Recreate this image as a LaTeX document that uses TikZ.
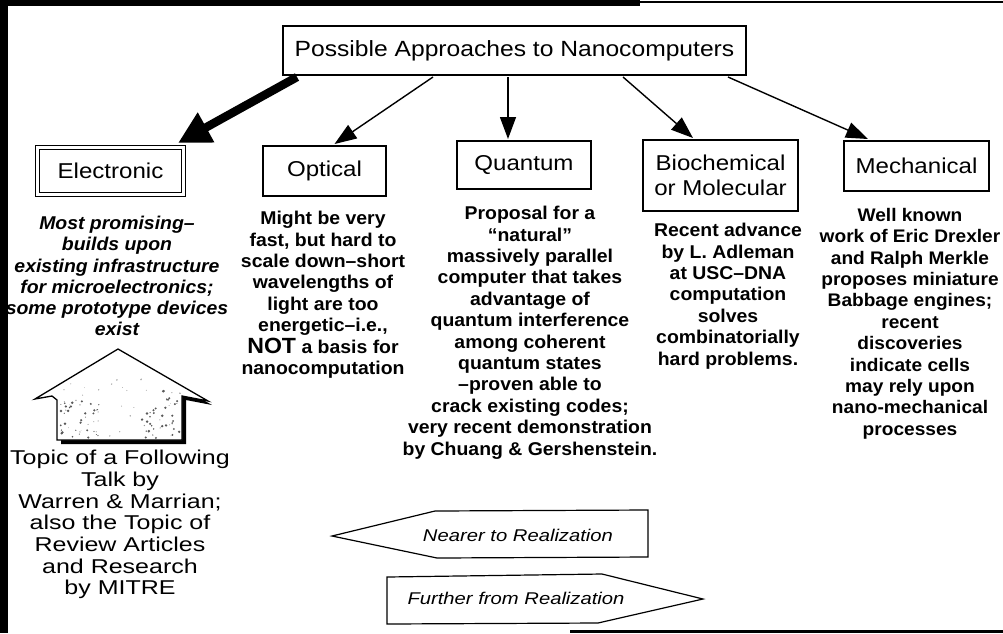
\documentclass[tikz,border=0pt]{standalone}
\usepackage{fontspec}
\setmainfont{Liberation Sans}
\newfontfamily\boxfont[FakeStretch=1.12]{Liberation Sans}
\newfontfamily\descfont[FakeStretch=1.05]{Liberation Sans}
\newfontfamily\talkfont[FakeStretch=1.25]{Liberation Sans}
\newfontfamily\realfont[FakeStretch=1.19]{Liberation Sans}
\usetikzlibrary{arrows.meta,calc}
\tikzset{
  boxnode/.style={draw, line width=2pt, inner sep=0pt, align=center,
    font={\boxfont\fontsize{21.5}{25}\selectfont}},
  descnode/.style={anchor=north, inner sep=0pt, align=center,
    font={\descfont\bfseries\fontsize{18.5}{21.4}\selectfont}},
  talknode/.style={anchor=north, inner sep=0pt, align=center,
    font={\talkfont\fontsize{20}{21.7}\selectfont}},
  realnode/.style={inner sep=0pt, font={\realfont\itshape\fontsize{17}{20}\selectfont}},
  thinarrow/.style={line width=1.4pt, -{Triangle[length=22pt,width=16pt]}},
  thickarrow/.style={line width=8.5pt, -{Triangle[length=32pt,width=32pt]}},
  blockarrow/.style={draw, line width=1.3pt, line join=miter},
}
\begin{document}
\begin{tikzpicture}[x=1pt,y=-1pt]
\useasboundingbox (0,0) rectangle (1003,633);
\clip (0,0) rectangle (1003,633);
% frame
\fill[black] (0,0) rectangle (8,633);
\fill[black] (0,0) rectangle (640,6);
\draw[line width=2pt] (640,2) -- (1003,2);
\draw[line width=3pt] (570,631) -- (1003,631);

% title and category boxes
\node[boxnode, minimum width=463pt, minimum height=49pt, font={\boxfont\fontsize{22}{25}\selectfont}]
  (title) at (514.5,50.5) {Possible Approaches to Nanocomputers};
\node[boxnode, line width=1.2pt, double, double distance=2.5pt, minimum width=146pt, minimum height=47pt]
  (elec) at (110.5,171) {Electronic};
\node[boxnode, minimum width=123pt, minimum height=50pt] (opt) at (324.5,171) {Optical};
\node[boxnode, minimum width=134pt, minimum height=48pt] (quant) at (524,165) {Quantum};
\node[boxnode, minimum width=155pt, minimum height=71pt] (bio) at (720.5,175.5) {Biochemical\\or Molecular};
\node[boxnode, minimum width=145pt, minimum height=50pt] (mech) at (916.5,166) {Mechanical};

% connectors
\draw[thickarrow] ($(title.south west)+(15,1)$) -- ($(elec.north east)+(-6,-4)$);
\draw[thinarrow] ($(title.south west)+(151,1)$) -- ($(opt.north)+(10,-1)$);
\draw[thinarrow] ($(title.south west)+(226,1)$) -- ($(quant.north west)+(52,-1)$);
\draw[thinarrow] ($(title.south west)+(341,1)$) -- ($(bio.north west)+(51,-1)$);
\draw[thinarrow] ($(title.south west)+(446,1)$) -- ($(mech.north west)+(25,-1)$);

% descriptions
\node[descnode, font={\descfont\bfseries\itshape\fontsize{18.5}{21.2}\selectfont}] (elecdesc) at (117,216)
  {Most promising–\\builds upon\\existing infrastructure\\for microelectronics;\\some prototype devices\\exist};
\node[descnode] (optdesc) at (323,211)
  {Might be very\\fast, but hard to\\scale down–short\\wavelengths of\\light are too\\energetic–i.e.,\\{\fontsize{22}{21.4}\selectfont NOT} a basis for\\nanocomputation};
\node[descnode] (quantdesc) at (530,206)
  {Proposal for a\\“natural”\\massively parallel\\computer that takes\\advantage of\\quantum interference\\among coherent\\quantum states\\–proven able to\\crack existing codes;\\very recent demonstration\\by Chuang \& Gershenstein.};
\node[descnode] (biodesc) at (728,223)
  {Recent advance\\by L. Adleman\\at USC–DNA\\computation\\solves\\combinatorially\\hard problems.};
\node[descnode, font={\descfont\bfseries\fontsize{18.2}{21.4}\selectfont}] (mechdesc) at (910,208)
  {Well known\\work of Eric Drexler\\and Ralph Merkle\\proposes miniature\\Babbage engines;\\recent\\discoveries\\indicate cells\\may rely upon\\nano-mechanical\\processes};

% house-shaped up arrow
\fill[black] (122,353) -- (212,405) -- (186,400) -- (186,444) -- (61,444) -- (61,404) -- cycle;
\path[fill=white, blockarrow] (118,349) -- (208,401) -- (182,396) -- (182,440) -- (57,440)
  -- (57,400) -- (52,396) -- (35,399) -- cycle;
\begin{scope}
  \clip (118,349) -- (208,401) -- (182,396) -- (182,440) -- (57,440) -- (57,400) -- (52,396) -- (35,399) -- cycle;
  \pgfmathsetseed{17}
  \foreach \i in {1,...,40}{
    \pgfmathsetmacro\xx{60+rnd*40}\pgfmathsetmacro\yy{400+rnd*38}\pgfmathsetmacro\rr{0.4+rnd*1.0}
    \fill[black!65] (\xx,\yy) circle[radius=\rr pt];}
  \foreach \i in {1,...,40}{
    \pgfmathsetmacro\xx{140+rnd*40}\pgfmathsetmacro\yy{390+rnd*48}\pgfmathsetmacro\rr{0.4+rnd*1.0}
    \fill[black!65] (\xx,\yy) circle[radius=\rr pt];}
  \foreach \i in {1,...,35}{
    \pgfmathsetmacro\xx{60+rnd*120}\pgfmathsetmacro\yy{375+rnd*63}\pgfmathsetmacro\rr{0.3+rnd*0.5}
    \fill[black!40] (\xx,\yy) circle[radius=\rr pt];}
\end{scope}
\node[talknode] (talk) at (120,450)
  {Topic of a Following\\Talk by\\Warren \& Marrian;\\also the Topic of\\Review Articles\\and Research\\by MITRE};

% realization arrows
\draw[blockarrow, line width=1.2pt] (332,536) -- (435,511) -- (648,510) -- (648,557) -- (437,558) -- cycle;
\node[realnode] (nearer) at (518,535) {Nearer to Realization};
\draw[blockarrow, line width=1.2pt] (387,577) -- (602,574) -- (703,599) -- (598,623) -- (387,624) -- cycle;
\node[realnode] (further) at (516,598) {Further from Realization};
\end{tikzpicture}
\end{document}
